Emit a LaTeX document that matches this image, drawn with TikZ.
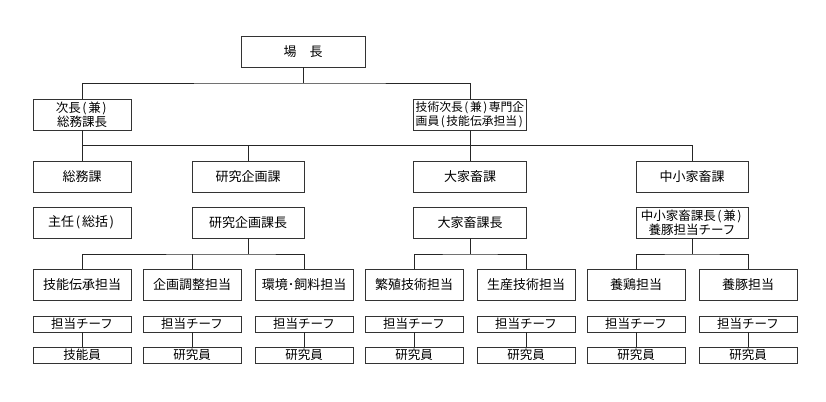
\documentclass[tikz,border=0pt]{standalone}
\usepackage{fontspec}
\setmainfont{Noto Sans CJK JP}
\newlength{\du}
\setlength{\du}{1pt}
\newcommand{\lpar}{\makebox[0.6em]{(}}
\newcommand{\rpar}{\makebox[0.6em]{)}}
\tikzset{
  box/.style={draw=black!80, line width=0.8pt, rectangle, inner sep=0pt, align=center,
    font=\fontsize{13pt}{15pt}\selectfont},
  rowbox/.style={box, minimum width=98\du, minimum height=31\du},
  smallbox/.style={box, minimum width=98\du, minimum height=16\du,
    font=\fontsize{12.5pt}{14pt}\selectfont},
  twoline/.style={font=\fontsize{12.5pt}{14pt}\selectfont},
  conn/.style={draw=black!85, line width=0.8pt}
}

\begin{document}
\begin{tikzpicture}
\pgftransformxscale{1.000000}
\pgftransformyscale{-1.000000}
\useasboundingbox (0\du,0\du) rectangle (826\du,401\du);
% top
\node[box, minimum width=124\du, minimum height=31\du] (jocho) at (303\du,51.5\du) {場　長};
\node[box, twoline, minimum width=98\du, minimum height=31\du] (jicho) at (82\du,114.5\du) {次長\lpar 兼\rpar\\総務課長};
\node[box, font=\fontsize{11.8pt}{13.5pt}\selectfont, minimum width=113\du, minimum height=31\du] (gijicho) at (470\du,114.5\du) {技術次長\lpar 兼\rpar 専門企\\画員\lpar 技能伝承担当\rpar};
% sections
\node[rowbox] (somuka) at (82\du,176.5\du) {総務課};
\node[box, minimum width=112\du, minimum height=31\du] (kikakuka) at (248\du,176.5\du) {研究企画課};
\node[box, minimum width=113\du, minimum height=31\du] (daikachikuka) at (470\du,176.5\du) {大家畜課};
\node[box, minimum width=112\du, minimum height=31\du] (shokachikuka) at (692\du,176.5\du) {中小家畜課};
% section heads
\node[rowbox] (shunin) at (82\du,222.5\du) {主任\lpar 総括\rpar};
\node[box, minimum width=112\du, minimum height=31\du] (kikakukacho) at (248\du,222.5\du) {研究企画課長};
\node[box, minimum width=113\du, minimum height=31\du] (daikacho) at (470\du,222.5\du) {大家畜課長};
\node[box, twoline, minimum width=112\du, minimum height=31\du] (shokacho) at (692\du,222.5\du) {中小家畜課長\lpar 兼\rpar\\養豚担当チーフ};
% teams
\node[rowbox] (denshou) at (82\du,285\du) {技能伝承担当};
\node[rowbox] (chousei) at (192\du,285\du) {企画調整担当};
\node[rowbox] (kankyo) at (304\du,285\du) {環境･飼料担当};
\node[rowbox] (hanshoku) at (414\du,285\du) {繁殖技術担当};
\node[rowbox] (seisan) at (526\du,285\du) {生産技術担当};
\node[rowbox] (youkei) at (636\du,285\du) {養鶏担当};
\node[rowbox] (youton) at (748\du,285\du) {養豚担当};
% chiefs
\node[smallbox] (chiefa) at (82\du,324\du) {担当チーフ};
\node[smallbox] (chiefb) at (192\du,324\du) {担当チーフ};
\node[smallbox] (chiefc) at (304\du,324\du) {担当チーフ};
\node[smallbox] (chiefd) at (414\du,324\du) {担当チーフ};
\node[smallbox] (chiefe) at (526\du,324\du) {担当チーフ};
\node[smallbox] (chieff) at (636\du,324\du) {担当チーフ};
\node[smallbox] (chiefg) at (748\du,324\du) {担当チーフ};
% staff
\node[smallbox] (staffa) at (82\du,355\du) {技能員};
\node[smallbox] (staffb) at (192\du,355\du) {研究員};
\node[smallbox] (staffc) at (304\du,355\du) {研究員};
\node[smallbox] (staffd) at (414\du,355\du) {研究員};
\node[smallbox] (staffe) at (526\du,355\du) {研究員};
\node[smallbox] (stafff) at (636\du,355\du) {研究員};
\node[smallbox] (staffg) at (748\du,355\du) {研究員};
% buses
\coordinate (busa) at (303\du,83\du);
\coordinate (busb) at (82\du,145\du);
\coordinate (busc) at (248\du,254\du);
\coordinate (busd) at (470\du,254\du);
\coordinate (buse) at (692\du,254\du);
\draw[conn] (jocho.south) -- (busa);
\draw[conn] (jicho.north) |- (busa) -| (gijicho.north);
\draw[conn] (jicho.south) -- (somuka.north);
\draw[conn] (gijicho.south) -- (daikachikuka.north);
\draw[conn] (busb) -| (shokachikuka.north);
\draw[conn] (kikakuka.north |- busb) -- (kikakuka.north);
\draw[conn] (kikakukacho.south) -- (busc);
\draw[conn] (denshou.north) |- (busc) -| (kankyo.north);
\draw[conn] (chousei.north |- busc) -- (chousei.north);
\draw[conn] (daikacho.south) -- (busd);
\draw[conn] (hanshoku.north) |- (busd) -| (seisan.north);
\draw[conn] (shokacho.south) -- (buse);
\draw[conn] (youkei.north) |- (buse) -| (youton.north);
\draw[conn] (chiefa.south) -- (staffa.north);
\draw[conn] (chiefb.south) -- (staffb.north);
\draw[conn] (chiefc.south) -- (staffc.north);
\draw[conn] (chiefd.south) -- (staffd.north);
\draw[conn] (chiefe.south) -- (staffe.north);
\draw[conn] (chieff.south) -- (stafff.north);
\draw[conn] (chiefg.south) -- (staffg.north);
\end{tikzpicture}
\end{document}
